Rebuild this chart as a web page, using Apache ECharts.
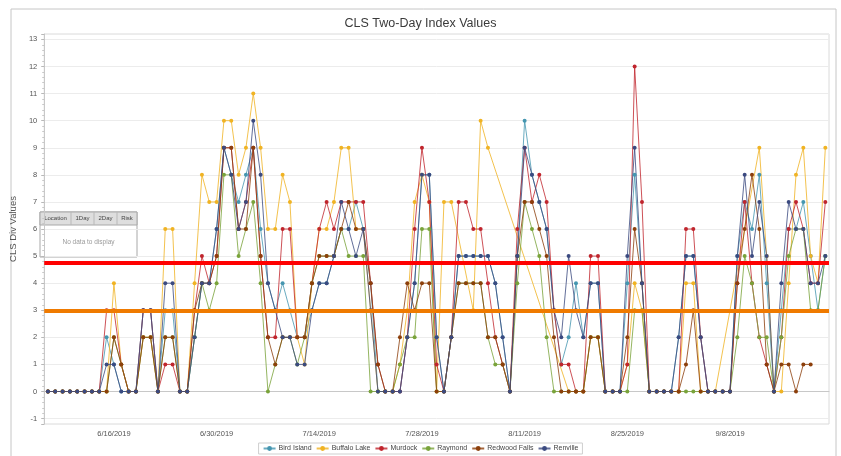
<!DOCTYPE html>
<html>
<head>
<meta charset="utf-8">
<script src="https://cdn.jsdelivr.net/npm/echarts@6.0.0/dist/echarts.min.js"></script>
<style>
  html, body { margin: 0; padding: 0; background: #fff; }
  #clsChart { width: 841px; height: 456px; }
</style>
</head>
<body>
<div id="clsChart"></div>
<script>
  // daily categories, 6/7/2019 .. 9/21/2019
  const firstDay = [2019, 5, 7];
  const dayCount = 107;
  const categories = [];
  for (let i = 0; i < dayCount; i++) {
    const d = new Date(Date.UTC(firstDay[0], firstDay[1], firstDay[2] + i));
    categories.push((d.getUTCMonth() + 1) + '/' + d.getUTCDate() + '/' + d.getUTCFullYear());
  }

  const birdIsland = [
    0, 0, 0, 0, 0, 0, 0, 0, 2, 1,
    0, 0, 0, 3, 3, 0, 3, 3, 0, 0,
    2, 4, 4, 6, 9, 8, 7, 8, 9, 6,
    4, 3, 4, 3, 2, 2, 3, 4, 4, 5,
    6, 6, 7, 6, 4, 0, 0, 0, 0, 2,
    4, 8, 8, 2, 0, 2, 5, 5, 5, 5,
    5, 4, 2, 0, 5, 10, 8, 7, 6, 3,
    1, 2, 4, 2, 4, 4, 0, 0, 0, 4,
    8, 4, 0, 0, 0, 0, 2, 5, 5, 2,
    0, 0, 0, 0, 5, 7, 6, 8, 4, 0,
    3, 6, 6, 7, 5, 3, 5
  ];
  const buffaloLake = [
    0, 0, 0, 0, 0, 0, 0, 0, 0, 4,
    1, 0, 0, 2, 2, 0, 6, 6, 0, 0,
    4, 8, 7, 7, 10, 10, 8, 9, 11, 9,
    6, 6, 8, 7, 2, 1, 4, 6, 6, 7,
    9, 9, 6, 6, 3, 0, 0, 0, 1, 3,
    7, 8, 7, 0, 7, 7, null, null, 3, 10,
    9, null, null, null, null, null, null, null, null, null,
    null, 0, 0, 0, 2, 2, 0, 0, 0, 1,
    4, 3, 0, 0, 0, 0, 0, 4, 4, 0,
    0, 0, null, null, null, null, null, 9, 5, 0,
    0, 4, 8, 9, 5, 4, 9
  ];
  const murdock = [
    0, 0, 0, 0, 0, 0, 0, 0, 3, 3,
    1, 0, 0, 3, 3, 0, 1, 1, 0, 0,
    3, 5, 4, 5, 9, 9, 6, 7, 9, 5,
    2, 2, 6, 6, 2, 2, 4, 6, 7, 6,
    7, 7, 7, 7, 4, 1, 0, 0, 0, 2,
    6, 9, 7, 1, 0, 2, 7, 7, 6, 6,
    4, 2, 1, 0, 6, 9, 7, 8, 7, 3,
    1, 1, 0, 0, 5, 5, 0, 0, 0, 1,
    12, 7, 0, 0, 0, 0, 0, 6, 6, 2,
    0, 0, 0, 0, 4, 7, 4, 2, 1, 0,
    2, 6, 7, 6, 4, 4, 7
  ];
  const raymond = [
    0, 0, 0, 0, 0, 0, 0, 0, 0, 2,
    1, 0, 0, 2, 2, 0, 2, 2, 0, 0,
    2, 4, 3, 4, 8, 8, 5, 6, 7, 4,
    0, 1, 2, 2, 1, 2, 4, 5, 5, 5,
    6, 5, 5, 5, 0, 0, 0, 0, 1, 2,
    2, 6, 6, 0, 0, 2, 4, 4, 4, 4,
    2, 1, 1, 0, 4, 7, 6, 5, 2, 0,
    0, 0, 0, 0, 2, 2, 0, 0, 0, 0,
    3, 3, 0, 0, 0, 0, 0, 0, 0, 0,
    0, 0, 0, 0, 2, 5, 4, 2, 2, 0,
    2, 5, 6, 6, 3, 3, 5
  ];
  const redwoodFalls = [
    0, 0, 0, 0, 0, 0, 0, 0, 0, 2,
    1, 0, 0, 2, 2, 0, 2, 2, 0, 0,
    3, 4, 4, 5, 9, 9, 6, 6, 9, 5,
    2, 1, 2, 2, 2, 2, 4, 5, 5, 5,
    6, 7, 6, 6, 4, 1, 0, 0, 2, 4,
    3, 4, 4, 0, 0, 2, 4, 4, 4, 4,
    2, 2, 1, 0, 5, 7, 7, 6, 5, 2,
    0, 0, 0, 0, 2, 2, 0, 0, 0, 2,
    6, 4, 0, 0, 0, 0, 0, 1, 3, 0,
    0, 0, 0, 0, 4, 6, 8, 6, 1, 0,
    1, 1, 0, 1, 1, null, null
  ];
  const renville = [
    0, 0, 0, 0, 0, 0, 0, 0, 1, 1,
    0, 0, 0, 3, 3, 0, 4, 4, 0, 0,
    2, 4, 4, 6, 9, 8, 6, 7, 10, 8,
    4, 3, 2, 2, 1, 1, 3, 4, 4, 5,
    7, 6, 5, 6, 3, 0, 0, 0, 0, 2,
    4, 8, 8, 2, 0, 2, 5, 5, 5, 5,
    5, 4, 2, 0, 5, 9, 8, 7, 6, 3,
    2, 5, 3, 2, 4, 4, 0, 0, 0, 5,
    9, 4, 0, 0, 0, 0, 2, 5, 5, 2,
    0, 0, 0, 0, 5, 8, 5, 7, 5, 0,
    4, 7, 6, 6, 4, 4, 5
  ];

  const seriesNames = ['Bird Island', 'Buffalo Lake', 'Murdock', 'Raymond', 'Redwood Falls', 'Renville'];
  const seriesData = [birdIsland, buffaloLake, murdock, raymond, redwoodFalls, renville];
  const seriesColors = ['#4596b0', '#f0b323', '#c0252d', '#79a33a', '#8c3f0b', '#3b4a80'];

  // threshold lines
  const riskHigh = 4.75;
  const riskLow = 3;

  // first label is 6/16, then every two weeks
  const firstLabelIndex = 9;

  const tableHeaders = ['Location', '1Day', '2Day', 'Risk'];

  const font = 'Liberation Sans';

  const chart = echarts.init(document.getElementById('clsChart'));

  const lineSeries = seriesNames.map((name, k) => ({
    name: name,
    type: 'line',
    data: seriesData[k],
    connectNulls: true,
    symbol: 'circle',
    symbolSize: 4,
    showAllSymbol: true,
    itemStyle: { color: seriesColors[k] },
    lineStyle: { color: seriesColors[k], width: 1, opacity: 0.8 },
    emphasis: { disabled: true }
  }));

  lineSeries.push({
    name: 'thresholds',
    type: 'line',
    data: [],
    z: 5,
    markLine: {
      silent: true,
      symbol: 'none',
      label: { show: false },
      data: [
        { yAxis: riskHigh, lineStyle: { color: '#ff0000', width: 4, type: 'solid' } },
        { yAxis: riskLow, lineStyle: { color: '#ef7a00', width: 4, type: 'solid' } }
      ]
    }
  });

  // little table overlay
  const colX = [40, 71, 94, 117, 137];
  const tableTop = 212, headH = 13, tableBottom = 257;
  const tableEls = [
    { type: 'rect', shape: { x: colX[0], y: tableTop, width: colX[4] - colX[0], height: tableBottom - tableTop },
      style: { fill: '#fff', stroke: '#a8a8a8', lineWidth: 1 } },
    { type: 'rect', shape: { x: colX[0], y: tableTop, width: colX[4] - colX[0], height: headH },
      style: { fill: '#dedede', stroke: '#a8a8a8', lineWidth: 1 } }
  ];
  tableHeaders.forEach((h, c) => {
    if (c > 0) {
      tableEls.push({ type: 'line', shape: { x1: colX[c], y1: tableTop, x2: colX[c], y2: tableTop + headH },
        style: { stroke: '#b8b8b8', lineWidth: 1 } });
    }
    tableEls.push({ type: 'text', x: (colX[c] + colX[c + 1]) / 2, y: tableTop + headH / 2,
      style: { text: h, fill: '#444', fontSize: 6, fontFamily: font, align: 'center', verticalAlign: 'middle' } });
  });
  tableEls.push({ type: 'text', x: (colX[0] + colX[4]) / 2, y: 242,
    style: { text: 'No data to display', fill: '#9a9a9a', fontSize: 6.5, fontFamily: font, align: 'center', verticalAlign: 'middle' } });

  const option = {
    animation: false,
    backgroundColor: '#fff',
    title: {
      text: 'CLS Two-Day Index Values',
      left: 'center',
      top: 12,
      textStyle: { fontFamily: font, fontSize: 12.5, fontWeight: 'normal', color: '#3a3a3a' }
    },
    grid: {
      left: 42,
      right: 12,
      top: 34,
      bottom: 32,
      show: true,
      borderColor: '#dadada',
      borderWidth: 1
    },
    legend: {
      data: seriesNames,
      bottom: 2,
      left: 'center',
      itemWidth: 12,
      itemHeight: 6,
      itemGap: 4,
      padding: [2, 4],
      borderColor: '#cfcfcf',
      borderWidth: 1,
      backgroundColor: '#fff',
      textStyle: { fontFamily: font, fontSize: 7, color: '#444', padding: [0, 0, 0, -2] }
    },
    xAxis: {
      type: 'category',
      data: categories,
      boundaryGap: true,
      axisLine: { lineStyle: { color: '#c8c8c8' } },
      axisTick: {
        alignWithLabel: true,
        length: 3,
        lineStyle: { color: '#b8b8b8' },
        interval: i => (i - firstLabelIndex) % 7 === 0
      },
      axisLabel: {
        interval: i => (i - firstLabelIndex) % 14 === 0 && i >= firstLabelIndex,
        fontFamily: font,
        fontSize: 7.5,
        color: '#555',
        margin: 6
      },
      splitLine: { show: false }
    },
    yAxis: {
      type: 'value',
      min: -1.2,
      max: 13.2,
      splitNumber: 14,
      name: 'CLS Div Values',
      nameLocation: 'middle',
      nameGap: 21,
      nameTextStyle: { fontFamily: font, fontSize: 9.5, color: '#555' },
      axisLine: { show: true, lineStyle: { color: '#c8c8c8' } },
      axisTick: { show: true, length: 3, lineStyle: { color: '#b8b8b8' } },
      minorTick: { show: true, splitNumber: 5, length: 2, lineStyle: { color: '#c8c8c8' } },
      axisLabel: {
        showMinLabel: false,
        showMaxLabel: false,
        fontFamily: font,
        fontSize: 7.5,
        color: '#555',
        margin: 7
      },
      splitLine: { lineStyle: { color: '#ececec' } }
    },
    graphic: [
      { type: 'rect', z: -1, shape: { x: 11, y: 9, width: 825, height: 460 },
        style: { fill: 'none', stroke: '#c6c6c6', lineWidth: 1 } },
      { type: 'group', z: 100, children: tableEls }
    ],
    series: lineSeries
  };

  chart.setOption(option);
</script>
</body>
</html>
